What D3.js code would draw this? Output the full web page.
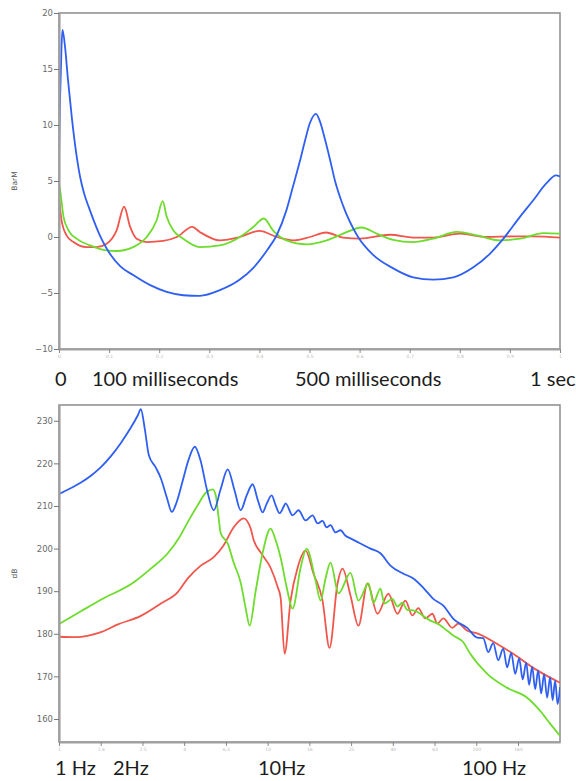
<!DOCTYPE html>
<html>
<head>
<meta charset="utf-8">
<script src="https://cdn.jsdelivr.net/npm/d3@7"></script>
<style>
body { margin: 0; background: #fff; }
</style>
</head>
<body>
<div id="mainDiv"></div>
<script>
// top panel: time response, [milliseconds, value]
var topBlue = [[0,7],[2,12],[5,17],[7,18.5],[12,17],[18,14],[26,10.5],[34,7.6],[42,5.4],[50,3.9],[60,2.6],[70,1.4],[82,0.1],[96,-1.1],[122,-2.6],[148,-3.4],[182,-4.3],[215,-4.9],[248,-5.2],[281,-5.25],[321,-4.75],[361,-3.8],[387,-2.8],[415,-1.2],[435,0.2],[454,2.4],[467,4.5],[481,6.8],[491,8.6],[501,10.2],[513,11],[521,10.3],[531,8.7],[541,6.9],[551,5.0],[567,2.8],[597,0],[627,-1.6],[667,-2.8],[707,-3.6],[747,-3.8],[787,-3.6],[827,-2.7],[860,-1.5],[887,-0.15],[920,1.8],[947,3.3],[973,4.8],[992,5.5],[1000,5.4]];
var topRed = [[0,3.6],[5,1.5],[15,0.15],[29,-0.45],[55,-0.9],[75,-0.9],[95,-0.6],[115,0.6],[130,2.7],[142,0.9],[155,-0.15],[175,-0.45],[208,-0.35],[235,0],[266,0.9],[281,0.45],[321,-0.3],[361,0],[400,0.55],[435,0],[468,-0.3],[501,0],[533,0.4],[567,-0.05],[601,-0.15],[661,0.2],[707,-0.05],[747,-0.05],[800,0.3],[854,0],[906,0.05],[946,0.05],[1000,-0.05]];
var topGreen = [[0,4.8],[4,3.6],[9,1.8],[19,0.6],[35,-0.15],[62,-0.75],[95,-1.2],[115,-1.25],[148,-0.9],[175,0],[195,1.5],[207,3.2],[215,1.8],[228,0.6],[248,-0.15],[281,-0.9],[321,-0.75],[361,0],[388,0.9],[409,1.65],[427,0.6],[454,-0.3],[494,-0.65],[534,-0.3],[567,0.3],[604,0.85],[634,0.3],[667,-0.25],[707,-0.45],[747,-0.15],[794,0.45],[834,0.15],[880,-0.3],[920,-0.15],[967,0.35],[1000,0.3]];

// bottom panel: spectrum, [Hz, dB]
var botBlue = [[1,212.8],[1.141,214.2],[1.274,215.5],[1.422,217.1],[1.588,219.1],[1.774,221.7],[1.98,224.8],[2.211,228.4],[2.388,231.3],[2.468,232.7],[2.579,228],[2.696,221.9],[2.912,219],[3.076,216.5],[3.287,212],[3.473,208.6],[3.669,211],[3.921,216],[4.188,221],[4.474,223.9],[4.78,220.5],[5.108,214],[5.516,209],[5.958,214],[6.436,218.6],[6.952,213.5],[7.428,209],[7.935,212.5],[8.477,215.1],[8.957,211.5],[9.464,208.5],[9.89,210.5],[10.45,212.5],[10.92,210.2],[11.41,208.3],[11.93,209.8],[12.19,210.6],[13.17,207.8],[14.07,209],[15.2,206.6],[16.42,207.8],[17.35,205.9],[18.33,206.5],[19.16,205],[20.02,205.5],[21.15,203.8],[22.35,204.3],[23.62,203],[24.95,202.4],[27.86,201.2],[31.11,200],[34.73,198.9],[38.78,196],[44.74,194.1],[49.94,193],[55.77,190.8],[62.27,188.2],[69.52,186.6],[77.62,183.5],[90.57,181.4],[101.1,179.1],[108,179],[114.1,175.7],[120.6,177.8],[127.4,173.8],[134.7,176.5],[140.7,172.1],[147.1,175.5],[153.7,170.6],[160.6,174.2],[166.9,169.3],[173.5,173.2],[179.3,168],[185.3,172.3],[191.6,167],[198,171.4],[204.6,166],[211.5,170.5],[218.6,165],[226,169.8],[232.3,164.4],[238.8,169],[245.5,163.5],[252.2,167.5]];
var botRed = [[1,179.3],[1.206,179.2],[1.588,180.4],[1.916,182.2],[2.468,184.2],[3.076,187.1],[3.71,189.8],[4.142,193],[4.78,196],[5.516,198],[6.159,200.8],[6.876,205],[7.677,207.1],[8.292,204.7],[8.571,202],[9.258,199.1],[10.33,195.5],[11.17,191],[11.54,188.5],[12.06,175.3],[12.88,187.8],[13.92,195.5],[15.2,199.5],[16.6,194.1],[18.33,187.8],[19.8,176.7],[21.63,191.8],[22.85,195.3],[24.95,189],[27.25,181.9],[30.1,191.8],[33.6,184.7],[37.93,189.4],[41.88,184.7],[45.74,187.8],[49.39,184.3],[52.78,186],[57.02,183.6],[61.59,184.7],[65.08,182.4],[69.52,183.6],[76.77,181.4],[82.02,182.4],[90.57,180.7],[101.1,180.1],[126,177.6],[150.3,175.3],[187.4,172],[252.2,168.5]];
var botGreen = [[1,182.3],[1.274,185.3],[1.588,188],[2.285,192.1],[2.755,195.3],[3.323,198.9],[3.751,202.4],[4.142,206.2],[4.625,210.2],[5.052,213.1],[5.456,213.9],[5.64,212.5],[5.83,207],[5.958,203.6],[6.436,201.2],[6.876,196.7],[7.428,192],[7.848,186],[8.202,181.9],[8.762,190],[9.464,199],[10.33,204.7],[10.92,202],[11.54,197.9],[12.33,191],[13.17,185.9],[14.39,195.5],[15.37,200],[16.97,192.5],[17.93,187.8],[18.95,193],[20.02,196.7],[21.87,189.5],[24.95,194.3],[27.25,187.8],[30.43,191.8],[32.15,187.3],[34.73,190.6],[36.29,187.1],[39.64,188.2],[41.88,186.4],[44.25,187.3],[46.75,185.6],[49.94,185.5],[60.25,183.1],[65.08,182.4],[72.65,180.7],[77.62,179.6],[86.66,178],[93.59,175.3],[112.9,170.6],[140.7,167.3],[175.4,165],[202.5,161.9],[226,158.9],[252.2,156]];

// ticks and labels
var topYTicks = [-10, -5, 0, 5, 10, 15, 20];
var topXTicks = [0, 100, 200, 300, 400, 500, 600, 700, 800, 900, 1000];
var topXLabels = ["0", "100 milliseconds", "500 milliseconds", "1 sec"];
var botYTicks = [160, 170, 180, 190, 200, 210, 220, 230];
var botXTicks = [1, 1.585, 2.512, 3.981, 6.31, 10, 15.85, 25.12, 39.81, 63.1, 100, 158.5];
var botXLabels = ["1 Hz", "2Hz", "10Hz", "100 Hz"];

var colors = { blue: "#2f5ff2", red: "#f0564b", green: "#6ddc2c" };

var svg = d3.select("#mainDiv").append("svg").attr("width", 576).attr("height", 781);

// scales
var xTop = d3.scaleLinear().domain([0, 1000]).range([59, 560]);
var yTop = d3.scaleLinear().domain([-10, 20]).range([349, 13]);
var xBot = d3.scaleLog().domain([1, 252]).range([59, 560]);
var yBot = d3.scaleLinear().domain([154.6, 233.7]).range([742, 405]);

function drawPanel(id, x, y, yTicks, xTicks, xFmt, yTitle, series) {
    var x0 = x.range()[0], x1 = x.range()[1], y0 = y.range()[1], y1 = y.range()[0];

    svg.append("clipPath").attr("id", id)
        .append("rect").attr("x", x0).attr("y", y0).attr("width", x1 - x0).attr("height", y1 - y0);

    // frame (top and right edges)
    svg.append("rect")
        .attr("x", x0).attr("y", y0).attr("width", x1 - x0).attr("height", y1 - y0)
        .attr("fill", "none").attr("stroke", "#8c8c8c").attr("stroke-width", 1.5);

    var lineGen = d3.line()
        .x(function(d) { return x(d[0]); })
        .y(function(d) { return y(d[1]); })
        .curve(d3.curveMonotoneX);

    series.forEach(function(s) {
        svg.append("path")
            .datum(s.data)
            .attr("clip-path", "url(#" + id + ")")
            .attr("d", lineGen)
            .attr("fill", "none")
            .attr("stroke", s.color)
            .attr("stroke-width", 1.8)
            .attr("stroke-linejoin", "round");
    });

    var yAxis = svg.append("g")
        .attr("transform", "translate(" + x0 + ",0)")
        .call(d3.axisLeft(y).tickValues(yTicks).tickSize(5).tickSizeOuter(0).tickPadding(1).tickFormat(d3.format("d")));
    yAxis.attr("font-family", "DejaVu Sans").attr("font-size", 8.5);
    yAxis.select(".domain").attr("stroke", "#a0a0a0").attr("stroke-width", 2.2);
    yAxis.selectAll(".tick line").attr("stroke", "#777");
    yAxis.selectAll(".tick text").attr("fill", "#6a6a6a");

    var xAxis = svg.append("g")
        .attr("transform", "translate(0," + y1 + ")")
        .call(d3.axisBottom(x).tickValues(xTicks).tickSize(4).tickSizeOuter(0).tickPadding(2).tickFormat(xFmt));
    xAxis.attr("font-family", "DejaVu Sans").attr("font-size", 4.5);
    xAxis.select(".domain").attr("stroke", "#a0a0a0").attr("stroke-width", 2.2);
    xAxis.selectAll(".tick line").attr("stroke", "#888");
    xAxis.selectAll(".tick text").attr("fill", "#bbb");

    svg.append("text")
        .attr("transform", "translate(17," + ((y0 + y1) / 2) + ") rotate(-90)")
        .attr("text-anchor", "middle")
        .attr("font-family", "DejaVu Sans")
        .attr("font-size", 7.5)
        .attr("fill", "#555")
        .text(yTitle);
}

drawPanel("clipTop", xTop, yTop, topYTicks, topXTicks, function(d) { return d3.format("~g")(d / 1000); }, "BarM", [
    { data: topRed, color: colors.red },
    { data: topGreen, color: colors.green },
    { data: topBlue, color: colors.blue }
]);

drawPanel("clipBot", xBot, yBot, botYTicks, botXTicks, d3.format(".2~r"), "dB", [
    { data: botRed, color: colors.red },
    { data: botGreen, color: colors.green },
    { data: botBlue, color: colors.blue }
]);

// hand-placed axis captions
var topLabelX = [55, 92, 295, 530];
var botLabelX = [55, 113, 258, 462];

topXLabels.forEach(function(t, i) {
    svg.append("text").attr("x", topLabelX[i]).attr("y", 386)
        .attr("font-family", "Lato").attr("font-size", 20).attr("fill", "#1c1c1c").text(t);
});
botXLabels.forEach(function(t, i) {
    svg.append("text").attr("x", botLabelX[i]).attr("y", 775)
        .attr("font-family", "Lato").attr("font-size", 20).attr("fill", "#1c1c1c").text(t);
});
</script>
</body>
</html>
